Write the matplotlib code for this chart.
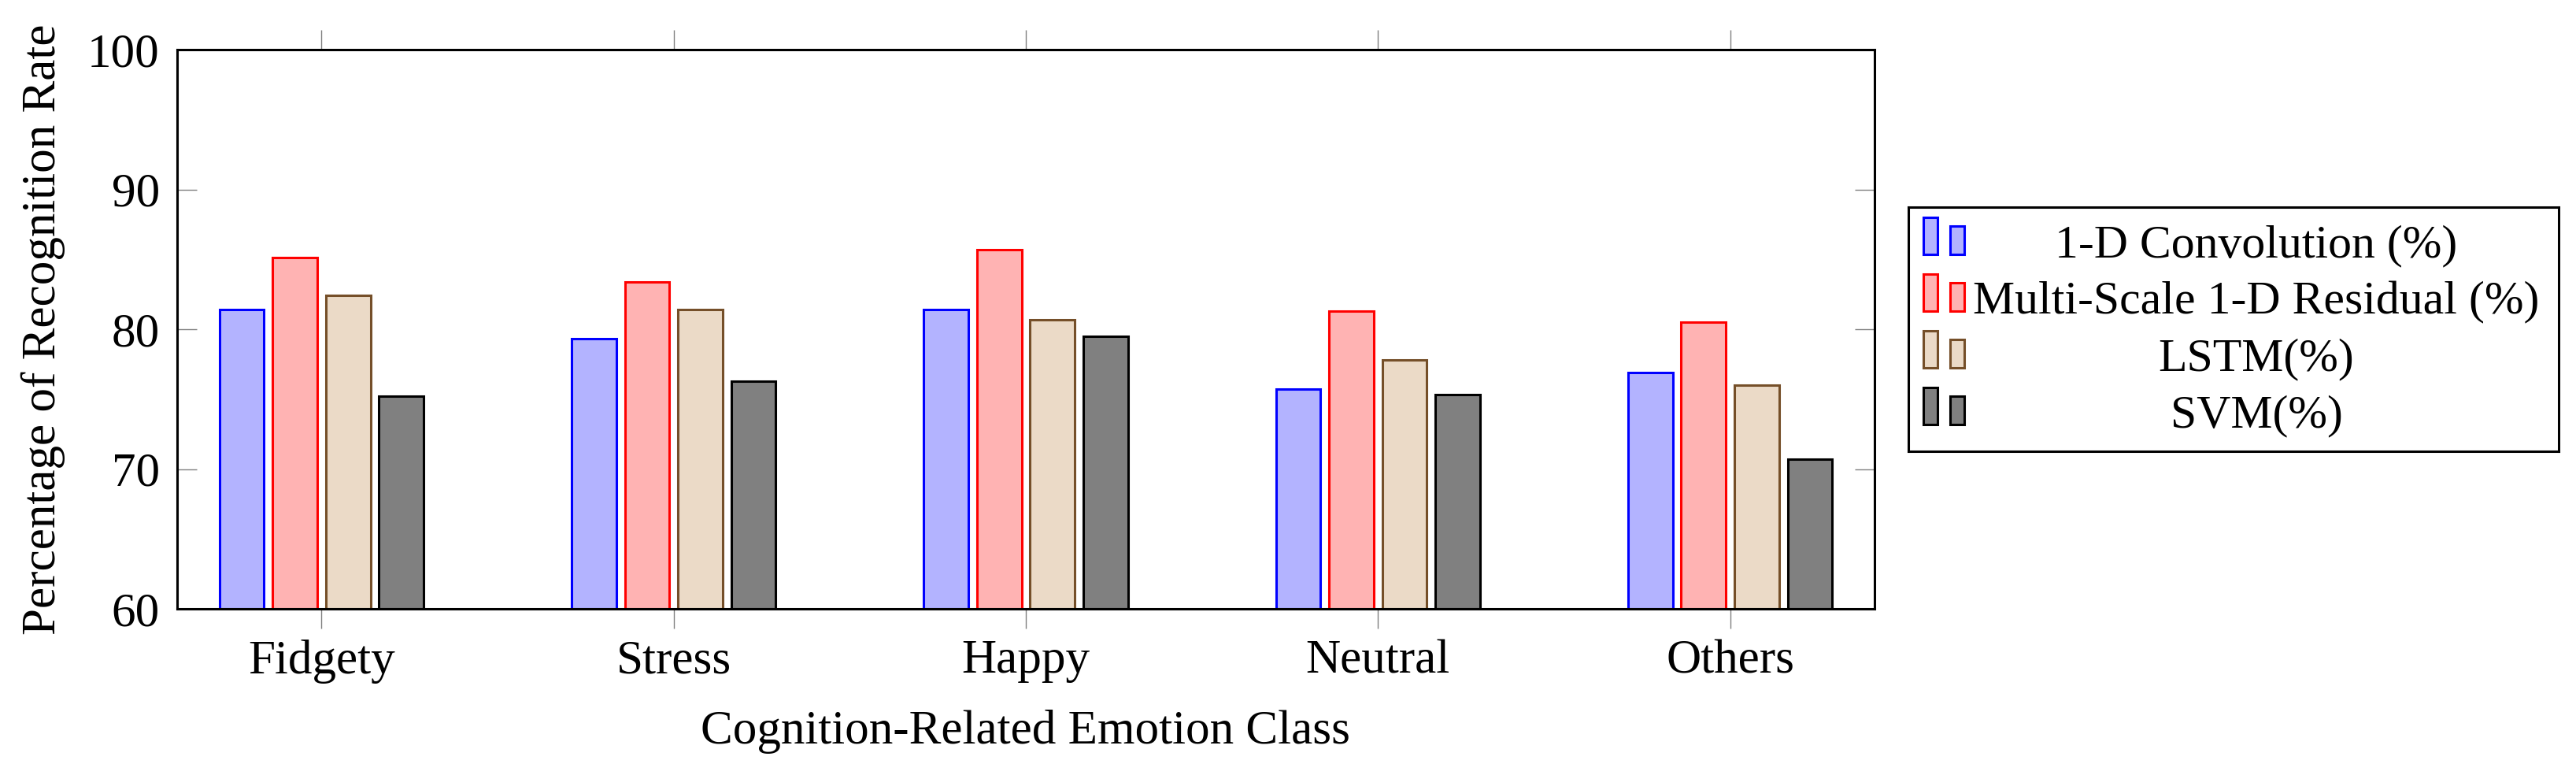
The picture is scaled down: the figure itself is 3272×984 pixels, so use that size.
import matplotlib
matplotlib.use("Agg")
import matplotlib.pyplot as plt
from matplotlib.patches import Rectangle
import numpy as np

categories = ["Fidgety", "Stress", "Happy", "Neutral", "Others"]
series_names = ["1-D Convolution (%)", "Multi-Scale 1-D Residual (%)", "LSTM(%)", "SVM(%)"]
conv_1d = [81.4, 79.3, 81.4, 75.7, 76.9]
ms_residual = [85.1, 83.4, 85.7, 81.3, 80.5]
lstm = [82.4, 81.4, 80.7, 77.8, 76.0]
svm = [75.2, 76.3, 79.5, 75.3, 70.7]
series_values = [conv_1d, ms_residual, lstm, svm]
yticks = [60, 70, 80, 90, 100]

face_colors = ["#B3B3FF", "#FFB3B3", "#EBDAC7", "#808080"]
edge_colors = ["#0000FF", "#FF0000", "#754F29", "#000000"]

plt.rcParams['font.family'] = ['Liberation Serif', 'DejaVu Serif']

W, H = 3273, 984
fig = plt.figure(figsize=(W / 100, H / 100), dpi=100)
ax = fig.add_axes([225 / W, (H - 773) / H, (2381 - 225) / W, (773 - 63) / H])

x = np.arange(len(categories))
bw = 0.127
step = 0.151
for i, vals in enumerate(series_values):
    ax.bar(x + (i - 1.5) * step, np.array(vals) - 60, bottom=60, width=bw,
           color=face_colors[i], edgecolor=edge_colors[i], linewidth=2.2, zorder=2)

ax.set_xlim(-0.41, len(categories) - 1 + 0.41)
ax.set_ylim(60, 100)
ax.set_xticks(x)
ax.set_xticklabels(categories)
ax.set_yticks(yticks)
ax.set_yticklabels([str(v) for v in yticks])

for s in ax.spines.values():
    s.set_linewidth(2.2)
    s.set_zorder(3)

ax.tick_params(axis='x', direction='out', length=18, width=1.0, color='#808080',
               top=True, bottom=True, labelsize=44, pad=10)
ax.tick_params(axis='y', direction='in', length=18, width=1.0, color='#808080',
               left=True, right=True, labelsize=44, pad=16)

ax.set_xlabel("Cognition-Related Emotion Class", fontsize=44, labelpad=24)
ax.set_ylabel("Percentage of Recognition Rate", fontsize=44, labelpad=20)

# legend (pgfplots style, drawn in a pixel-coordinate axes)
lx0, lx1, ly0, ly1 = 2424, 3250, 263, 573
lax = fig.add_axes([lx0 / W, (H - ly1) / H, (lx1 - lx0) / W, (ly1 - ly0) / H])
lax.set_xlim(lx0, lx1)
lax.set_ylim(ly1, ly0)
lax.set_xticks([])
lax.set_yticks([])
for s in lax.spines.values():
    s.set_linewidth(2.2)
for i, name in enumerate(series_names):
    dy = i * 72
    lax.add_patch(Rectangle((2443, 276 + dy), 18, 47, facecolor=face_colors[i],
                            edgecolor=edge_colors[i], linewidth=2.2))
    lax.add_patch(Rectangle((2477, 287 + dy), 18, 36, facecolor=face_colors[i],
                            edgecolor=edge_colors[i], linewidth=2.2))
    lax.text(2866, 312 + dy, name, ha='center', va='center', fontsize=43)

fig.savefig("out.png", dpi=100)
